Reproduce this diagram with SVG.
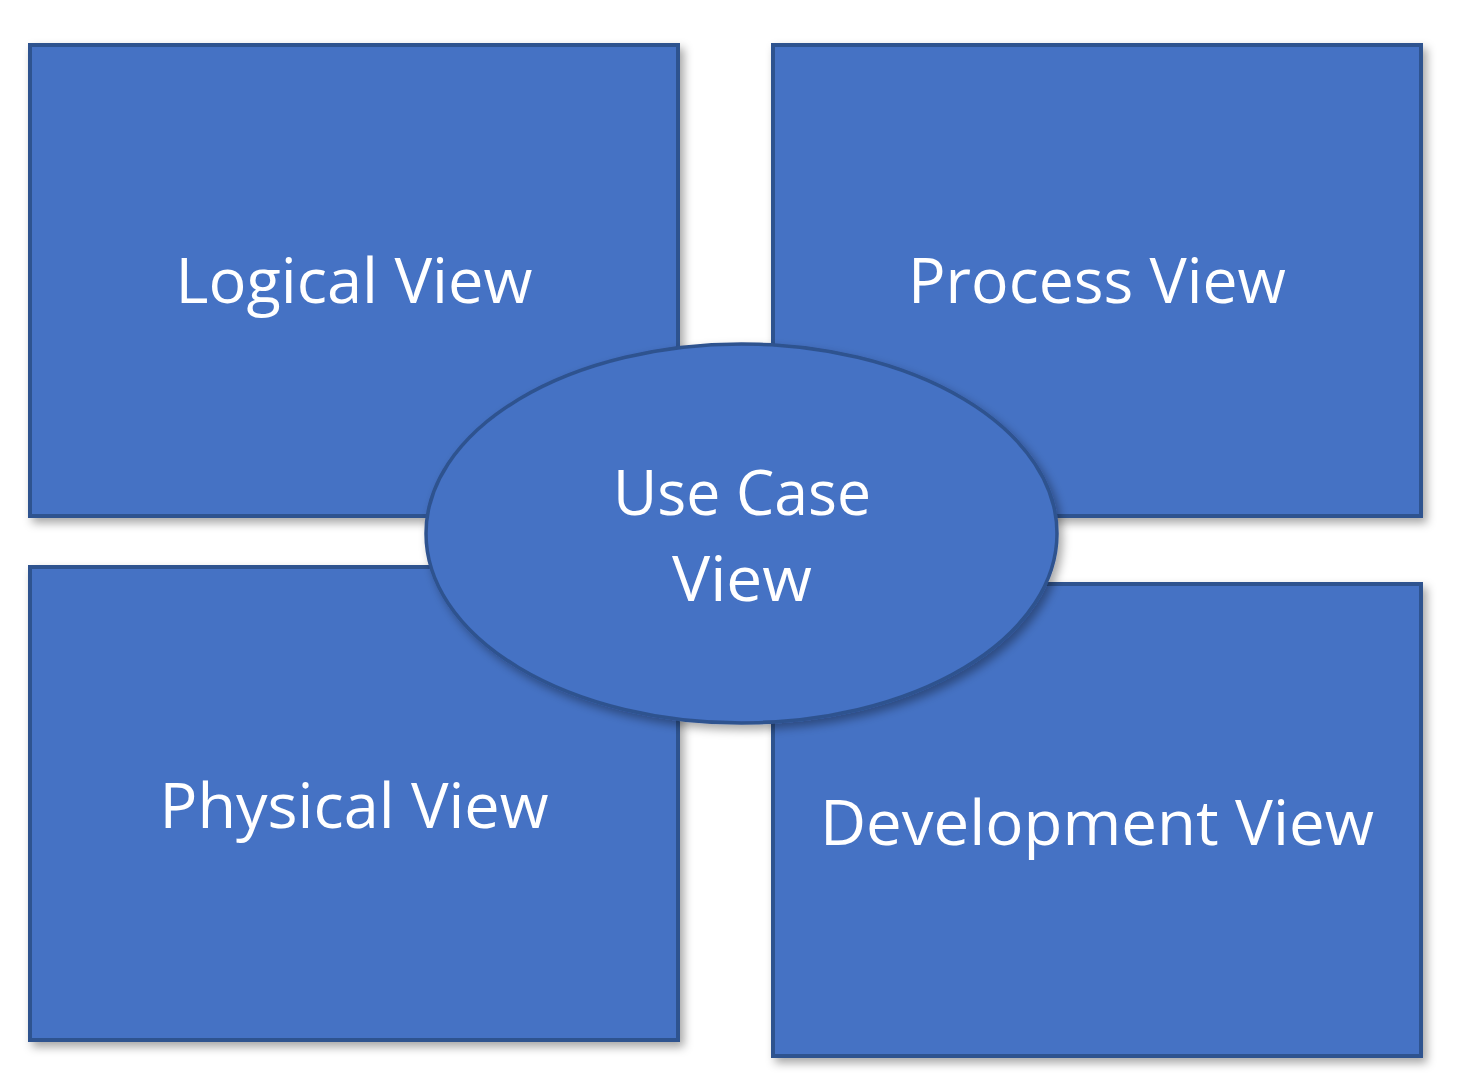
<svg xmlns="http://www.w3.org/2000/svg" width="1460" height="1080" viewBox="0 0 1460 1080">
<defs>
<filter id="sh" x="-10%" y="-10%" width="125%" height="125%">
<feDropShadow dx="4" dy="5" stdDeviation="5" flood-color="#000" flood-opacity="0.35"/>
</filter>
</defs>
<style>
.box{fill:#4472C4;stroke:#2F528F;stroke-width:4;filter:url(#sh)}
.oval{fill:#4472C4;stroke:#2F528F;stroke-width:3.5;filter:url(#sh)}
.lbl{font-family:"Open Sans","Noto Sans","Liberation Sans",sans-serif;font-size:63px;fill:#FFFFFF;text-anchor:middle}
</style>
<rect width="1460" height="1080" fill="#FFFFFF"/>
<g id="logical">
<rect class="box" x="30" y="45" width="648" height="471"/>
<text class="lbl" x="354" y="303" textLength="357" lengthAdjust="spacingAndGlyphs">Logical View</text>
</g>
<g id="process">
<rect class="box" x="773" y="45" width="648" height="471"/>
<text class="lbl" x="1097" y="303" textLength="378" lengthAdjust="spacingAndGlyphs">Process View</text>
</g>
<g id="physical">
<rect class="box" x="30" y="567" width="648" height="473"/>
<text class="lbl" x="354" y="828" textLength="389" lengthAdjust="spacingAndGlyphs">Physical View</text>
</g>
<g id="development">
<rect class="box" x="773" y="584" width="648" height="472"/>
<text class="lbl" x="1097" y="845" textLength="554" lengthAdjust="spacingAndGlyphs">Development View</text>
</g>
<g id="usecase">
<ellipse class="oval" cx="741.5" cy="533.5" rx="315.5" ry="189.5"/>
<text class="lbl" x="742" y="515" textLength="258" lengthAdjust="spacingAndGlyphs">Use Case</text>
<text class="lbl" x="742" y="601" textLength="140" lengthAdjust="spacingAndGlyphs">View</text>
</g>
<g id="connectors"/>
</svg>
